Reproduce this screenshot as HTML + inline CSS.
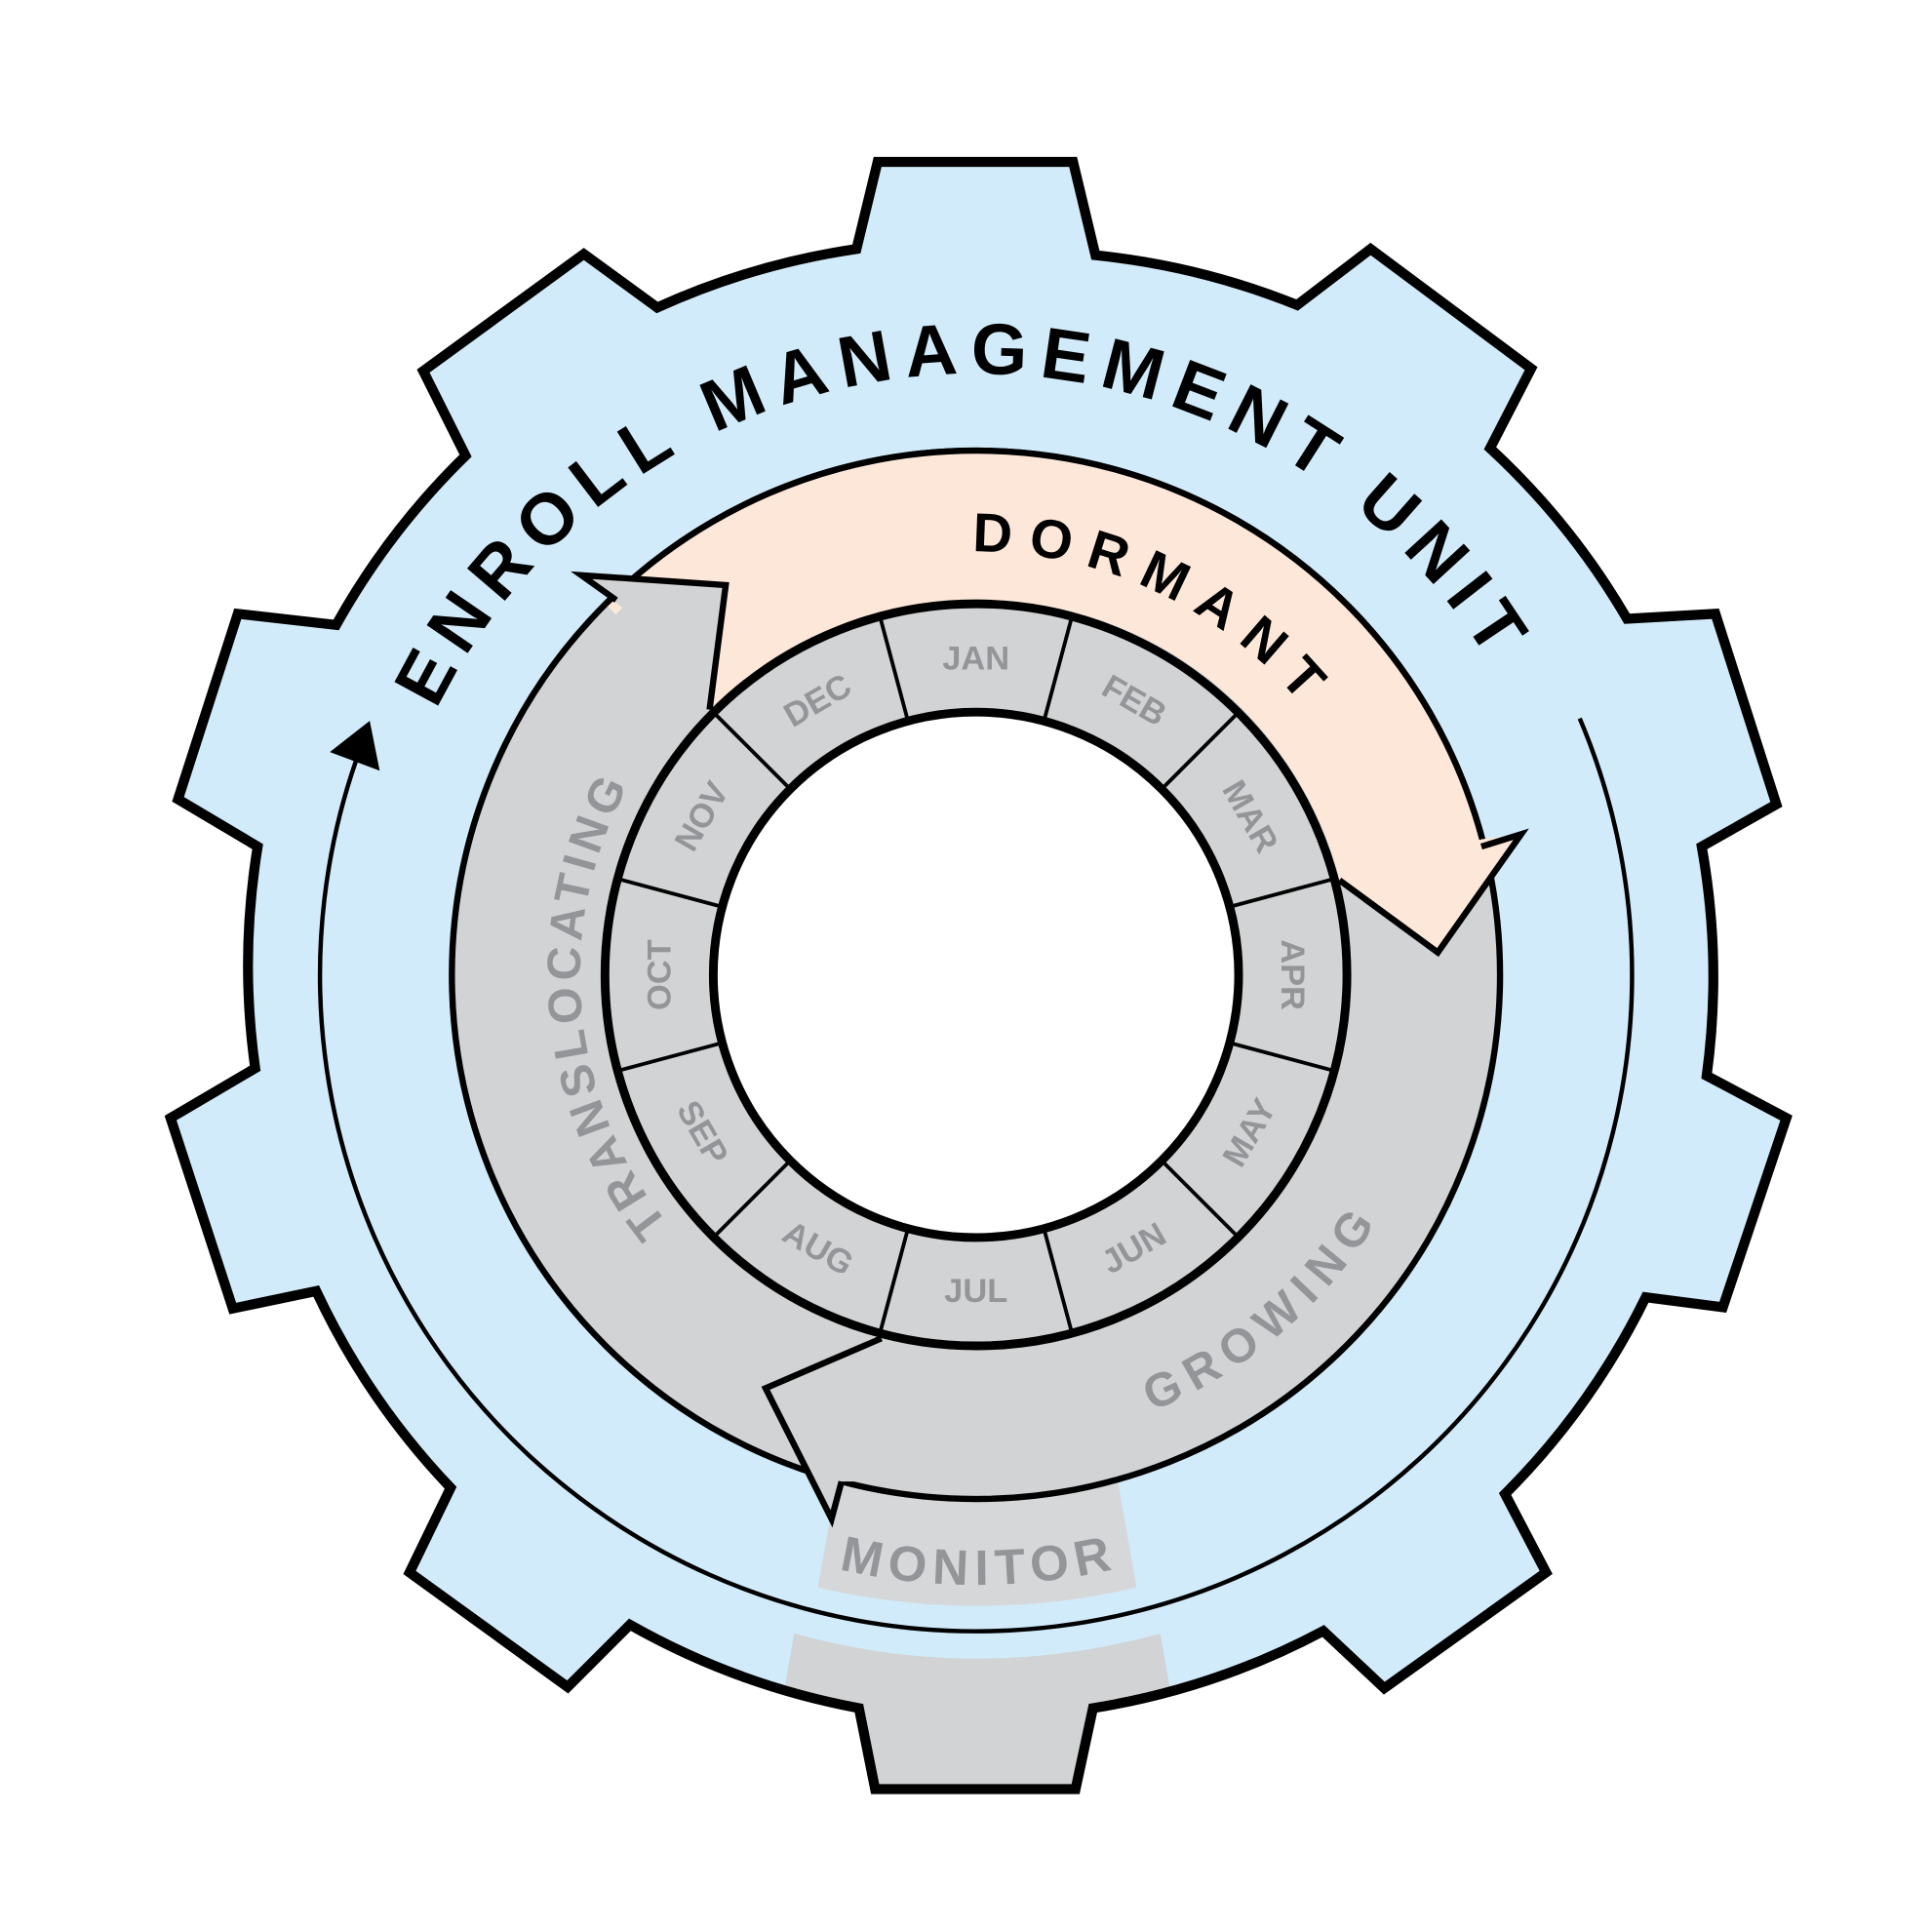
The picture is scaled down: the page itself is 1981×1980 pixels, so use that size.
<!DOCTYPE html>
<html><head><meta charset="utf-8"><style>
html,body{margin:0;padding:0;background:#fff}
svg{display:block}
.m{font-family:"Liberation Sans",sans-serif;font-weight:bold;font-size:27px;fill:#939598;text-anchor:middle;dominant-baseline:central}
</style></head><body>
<svg width="1981" height="1980" viewBox="0 0 1552 1551" preserveAspectRatio="none" xmlns="http://www.w3.org/2000/svg">
<defs>
<path id="gear" d="M705,130 L862,130 L880,205 A593 593 0 0 1 1042,245 L1101,200 L1230,296 L1197,360 A593 593 0 0 1 1307,497 L1378,493 L1427,646 L1367,680 A593 593 0 0 1 1371,864 L1435,898 L1384,1050 L1322,1042 A593 593 0 0 1 1209,1200 L1242,1263 L1112,1356 L1063,1310 A593 593 0 0 1 878,1372 L864,1437 L703,1437 L690,1372 A593 593 0 0 1 506,1305 L456,1355 L329,1263 L362,1195 A593 593 0 0 1 254,1037 L187,1051 L137,898 L205,858 A593 593 0 0 1 207,680 L143,642 L191,493 L270,502 A593 593 0 0 1 374,366 L340,298 L469,204 L528,247 A593 593 0 0 1 688,200 Z"/>
<clipPath id="gc"><use href="#gear"/></clipPath>
<path id="tEnroll" d="M342.8,586.6 A483 483 0 0 1 1225.2,586.6"/>
<path id="tDorm" d="M781,443 A340 340 0 0 1 1078.4,613"/>
<path id="tTrans" d="M540.4,987.4 A318 318 0 0 1 523.5,600.6"/>
<path id="tGrow" d="M925.6,1133.5 A378 378 0 0 0 1111.4,972"/>
<path id="tMon" d="M673.8,1260.4 A490 490 0 0 0 902.5,1258.4"/>
</defs>
<use href="#gear" fill="#d1ebfa"/>
<path clip-path="url(#gc)" d="M638,1312 A545 545 0 0 0 932,1312 L960,1470 L610,1470 Z" fill="#d1d3d4"/>
<use href="#gear" fill="none" stroke="#000" stroke-width="8" stroke-linejoin="miter"/>
<path d="M1269,577 A527 527 0 1 1 286,611" fill="none" stroke="#000" stroke-width="3.5"/>
<polygon points="297,579 265,604 305,619" fill="#000"/>
<path d="M672,1190 L898,1190 L913,1275 A560 560 0 0 1 657,1275 Z" fill="#d6d7d9"/>
<text font-family="Liberation Sans,sans-serif" font-weight="bold" font-size="40" fill="#939598"><textPath href="#tMon" textLength="222" lengthAdjust="spacing">MONITOR</textPath></text>
<circle cx="784" cy="783" r="360" fill="none" stroke="#d1d3d4" stroke-width="122"/>
<circle cx="784" cy="783" r="421" fill="none" stroke="#000" stroke-width="5"/>
<path d="M486.3,485.3 A421 421 0 0 1 1190.7,674 L1222,670 L1155,765 L1076,707 A298 298 0 0 0 573.3,572.3 Z" fill="#fde7d8"/>
<path d="M486.3,485.3 A421 421 0 0 1 1190.7,674" fill="none" stroke="#000" stroke-width="5"/>
<polyline points="1190,680 1222,670 1155,765 1076,707" fill="none" stroke="#000" stroke-width="5" stroke-linejoin="miter"/>
<polygon points="500,488 467,462 583,470 570,570 520,560 470,520" fill="#d1d3d4"/>
<polyline points="495,482 467,462 583,470 570,570" fill="none" stroke="#000" stroke-width="5"/>
<polygon points="676,1190 668,1220 615,1115 708,1075 720,1100 700,1190" fill="#d1d3d4"/>
<polyline points="676,1190 668,1220 615,1115 708,1075" fill="none" stroke="#000" stroke-width="5"/>
<circle cx="784" cy="783" r="298" fill="#d1d3d4" stroke="#000" stroke-width="7"/>
<circle cx="784" cy="783" r="211" fill="#fff" stroke="#000" stroke-width="7"/>
<g stroke="#000" stroke-width="3">
<line x1="784" y1="486" x2="784" y2="572" transform="rotate(15 784 783)"/>
<line x1="784" y1="486" x2="784" y2="572" transform="rotate(45 784 783)"/>
<line x1="784" y1="486" x2="784" y2="572" transform="rotate(75 784 783)"/>
<line x1="784" y1="486" x2="784" y2="572" transform="rotate(105 784 783)"/>
<line x1="784" y1="486" x2="784" y2="572" transform="rotate(135 784 783)"/>
<line x1="784" y1="486" x2="784" y2="572" transform="rotate(165 784 783)"/>
<line x1="784" y1="486" x2="784" y2="572" transform="rotate(195 784 783)"/>
<line x1="784" y1="486" x2="784" y2="572" transform="rotate(225 784 783)"/>
<line x1="784" y1="486" x2="784" y2="572" transform="rotate(255 784 783)"/>
<line x1="784" y1="486" x2="784" y2="572" transform="rotate(285 784 783)"/>
<line x1="784" y1="486" x2="784" y2="572" transform="rotate(315 784 783)"/>
<line x1="784" y1="486" x2="784" y2="572" transform="rotate(345 784 783)"/>
</g>
<g class="m">
<text x="784" y="529" transform="rotate(0 784 783)">JAN</text>
<text x="784" y="529" transform="rotate(30 784 783)">FEB</text>
<text x="784" y="529" transform="rotate(60 784 783)">MAR</text>
<text x="784" y="529" transform="rotate(90 784 783)">APR</text>
<text x="784" y="1037" transform="rotate(-60 784 783)">MAY</text>
<text x="784" y="1037" transform="rotate(-30 784 783)">JUN</text>
<text x="784" y="1037" transform="rotate(0 784 783)">JUL</text>
<text x="784" y="1037" transform="rotate(30 784 783)">AUG</text>
<text x="784" y="1037" transform="rotate(60 784 783)">SEP</text>
<text x="784" y="529" transform="rotate(-90 784 783)">OCT</text>
<text x="784" y="529" transform="rotate(-60 784 783)">NOV</text>
<text x="784" y="529" transform="rotate(-30 784 783)">DEC</text>
</g>
<text font-family="Liberation Sans,sans-serif" font-weight="bold" font-size="58" fill="#000"><textPath href="#tEnroll" startOffset="18" textLength="1030" lengthAdjust="spacing">ENROLL MANAGEMENT UNIT</textPath></text>
<text font-family="Liberation Sans,sans-serif" font-weight="bold" font-size="44" fill="#000"><textPath href="#tDorm" textLength="300" lengthAdjust="spacing">DORMANT</textPath></text>
<text font-family="Liberation Sans,sans-serif" font-weight="bold" font-size="38" fill="#939598"><textPath href="#tTrans" startOffset="5" textLength="375" lengthAdjust="spacing">TRANSLOCATING</textPath></text>
<text font-family="Liberation Sans,sans-serif" font-weight="bold" font-size="38" fill="#939598"><textPath href="#tGrow" textLength="238" lengthAdjust="spacing">GROWING</textPath></text>
</svg>
</body></html>
